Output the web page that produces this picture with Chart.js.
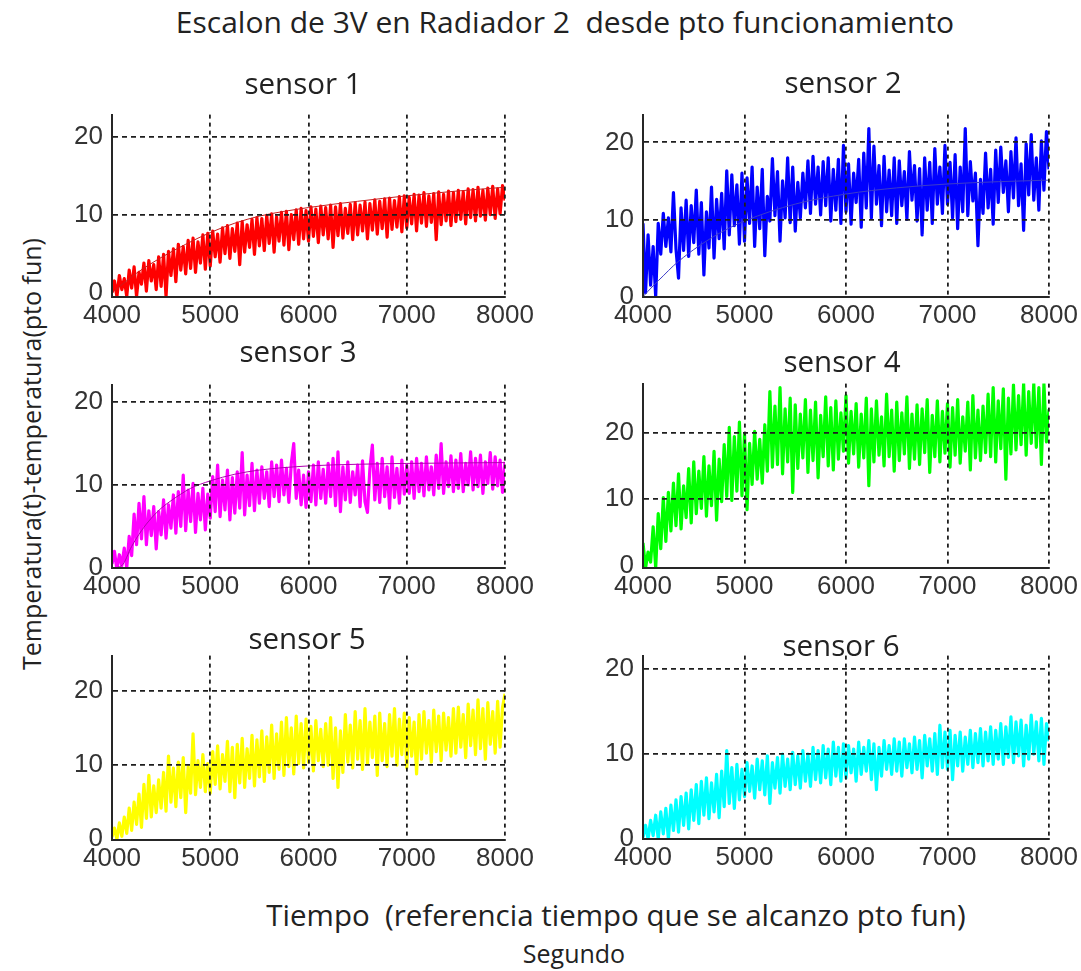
<!DOCTYPE html>
<html>
<head>
<meta charset="utf-8">
<title>Escalon de 3V en Radiador 2</title>
<script src="https://cdn.jsdelivr.net/npm/chart.js@4.4.1/dist/chart.umd.min.js"></script>
<style>
  body { margin: 0; background: #fff; }
  #page { position: relative; width: 1081px; height: 971px; overflow: hidden; font-family: 'Open Sans', sans-serif; color: #222; }
  .txt { position: absolute; white-space: pre; transform: translate(-50%, -50%); line-height: 1; }
  .vert { transform: translate(-50%, -50%) rotate(-90deg); }
  canvas { position: absolute; }
</style>
</head>
<body>
<div id="page">
  <div class="txt" style="left:565px;top:22px;font-size:30px">Escalon de 3V en Radiador 2  desde pto funcionamiento</div>
  <div class="txt vert" style="left:31px;top:454px;font-size:25px">Temperatura(t)-temperatura(pto fun)</div>
  <div class="txt" style="left:616px;top:915px;font-size:29.5px">Tiempo  (referencia tiempo que se alcanzo pto fun)</div>
  <div class="txt" style="left:574px;top:953px;font-size:25px">Segundo</div>
</div>

<script>
// sampled every 25 s from t = 4000 s to 8000 s (161 samples per sensor)
const sampleStart = 4000;
const sampleStep = 25;
const timeTicks = [4000, 5000, 6000, 7000, 8000];
const tempTicks = [0, 10, 20];

const sensorNames = ['sensor 1', 'sensor 2', 'sensor 3', 'sensor 4', 'sensor 5', 'sensor 6'];
const sensorColors = ['#ff0000', '#0000ff', '#ff00ff', '#00ff00', '#ffff00', '#00ffff'];

const sensor1 = [
  0, 1.5, -0.5, 2.2, 0.4, 1.8, -0.5, 2.9, 0.6, 3.3, -0.5, 2.6, 1.1, 3.8, 0.2, 4.1, 1.5, 3.6, 0.4, 4.6,
  0.8, 4.9, -0.5, 5.3, 2.2, 5.6, 1.4, 6.2, 2.9, 5.9, 2.4, 6.7, 3.1, 7.0, 2.6, 6.5, 3.8, 7.4, 3.0, 7.6,
  3.4, 7.9, 4.6, 7.5, 3.9, 8.3, 5.0, 8.6, 4.4, 8.2, 5.3, 8.9, 3.6, 9.1, 5.2, 8.7, 5.8, 9.4, 4.9, 9.6,
  6.0, 9.5, 5.4, 9.9, 6.3, 10.1, 5.2, 9.7, 6.6, 10.3, 6.1, 10.4, 5.5, 10.0, 6.8, 10.6, 6.2, 10.8, 6.9, 10.5,
  6.6, 11.0, 7.2, 10.7, 6.4, 11.1, 7.4, 10.9, 6.9, 11.2, 5.8, 11.0, 7.3, 11.4, 7.0, 10.8, 7.6, 11.3, 6.8, 11.5,
  7.4, 11.2, 7.9, 11.6, 6.9, 11.4, 8.0, 11.9, 7.5, 11.7, 8.2, 12.0, 7.1, 12.1, 8.1, 11.8, 8.4, 12.3, 7.8, 12.4,
  8.3, 12.2, 8.8, 12.6, 7.9, 12.5, 8.9, 12.8, 8.5, 12.4, 9.0, 12.7, 6.8, 12.9, 8.7, 12.6, 9.2, 13.0, 8.6, 12.8,
  9.1, 13.1, 9.4, 12.9, 8.8, 13.3, 9.6, 13.2, 9.2, 13.5, 9.8, 13.1, 9.3, 13.4, 10.0, 13.6, 9.5, 13.3, 10.1, 13.7,
  11.8
];
const sensor2 = [
  9.5, 0.5, 8.0, 1.5, 6.5, 0, 9.5, 5.5, 10.8, 6.5, 10.2, 5.8, 13.5, 6.2, 2.4, 11.5, 6.0, 12.5, 5.2, 11.8,
  7.0, 13.8, 5.5, 12.2, 2.8, 11.0, 6.3, 14.2, 5.0, 12.6, 7.5, 13.4, 6.2, 16.3, 8.0, 15.8, 9.2, 14.5, 6.8, 16.0,
  7.2, 15.4, 9.5, 16.8, 6.5, 14.2, 8.8, 16.5, 5.3, 13.0, 9.8, 17.9, 10.5, 16.2, 7.2, 15.0, 10.2, 18.0, 9.6, 16.8,
  8.5, 14.8, 10.2, 16.0, 11.5, 17.6, 10.8, 18.2, 12.0, 16.8, 10.6, 17.5, 11.8, 18.0, 9.8, 16.5, 11.2, 17.8, 9.5, 19.6,
  11.0, 17.2, 9.4, 16.0, 12.2, 17.8, 9.0, 18.6, 11.5, 21.8, 10.2, 19.5, 12.0, 17.0, 9.2, 18.2, 11.0, 16.4, 10.5, 18.0,
  9.5, 17.6, 11.8, 16.2, 10.0, 18.8, 12.5, 17.0, 9.8, 16.6, 8.0, 18.0, 11.2, 17.4, 9.5, 19.2, 12.0, 16.8, 10.8, 19.6,
  12.0, 17.4, 10.2, 18.4, 8.8, 16.8, 11.0, 21.8, 10.5, 17.5, 12.4, 16.0, 6.6, 15.2, 10.8, 18.6, 11.5, 16.5, 9.4, 19.0,
  12.2, 19.4, 13.5, 17.6, 11.0, 18.8, 12.8, 20.6, 11.8, 17.2, 8.6, 19.8, 13.2, 21.0, 12.5, 18.0, 11.2, 20.2, 13.8, 21.4,
  16.5
];
const sensor3 = [
  0.5, 2.0, -0.2, 1.6, 0.3, 2.4, 0, 3.8, 1.5, 6.5, 2.8, 7.8, 3.5, 8.6, 2.8, 6.9, 3.9, 7.4, 2.3, 6.8,
  4.0, 8.2, 3.6, 7.6, 4.8, 8.8, 4.2, 9.2, 5.0, 11.2, 4.5, 9.4, 5.6, 10.2, 4.3, 9.0, 5.8, 9.6, 4.6, 8.9,
  6.0, 11.0, 6.8, 12.4, 6.2, 10.6, 7.0, 11.8, 5.8, 10.9, 6.6, 11.6, 7.2, 13.9, 6.4, 11.2, 7.5, 12.6, 6.9, 11.8,
  7.8, 12.2, 8.4, 11.6, 7.4, 12.8, 8.6, 12.4, 8.0, 13.0, 8.8, 12.0, 7.9, 12.6, 15.0, 8.4, 11.8, 7.6, 11.2, 7.3,
  11.6, 8.0, 12.4, 7.6, 12.8, 8.4, 11.9, 7.8, 12.6, 8.6, 13.2, 7.5, 14.0, 6.8, 12.2, 8.2, 12.8, 7.9, 11.6, 8.8,
  12.4, 7.4, 12.9, 8.0, 6.7, 12.0, 14.8, 8.2, 12.6, 7.9, 13.2, 8.6, 12.2, 7.2, 13.4, 8.5, 12.0, 7.8, 13.0, 8.9,
  12.4, 9.0, 12.8, 8.4, 13.2, 9.2, 12.6, 8.7, 13.4, 9.4, 12.2, 8.8, 13.6, 9.6, 15.0, 9.0, 12.8, 9.8, 13.5, 9.2,
  13.0, 9.6, 13.8, 9.2, 12.6, 10.0, 14.0, 9.4, 13.2, 9.8, 13.6, 9.0, 12.8, 10.2, 13.9, 9.5, 13.4, 9.9, 13.0, 9.1,
  12.8
];
const sensor4 = [
  3.4, -0.4, 2.0, 0.5, 5.8, -0.4, 7.8, 2.5, 10.2, 3.6, 11.0, 5.2, 12.4, 6.0, 13.8, 5.5, 12.0, 7.2, 14.6, 6.4,
  15.6, 7.8, 14.2, 8.6, 16.4, 7.4, 15.0, 9.0, 17.2, 6.8, 16.0, 9.6, 18.2, 10.4, 20.8, 9.8, 19.4, 11.2, 21.6, 10.5,
  19.8, 8.4, 18.4, 12.2, 20.2, 13.0, 19.0, 12.4, 21.2, 14.2, 26.2, 14.8, 24.0, 15.2, 26.8, 13.8, 23.6, 15.6, 25.2, 11.0,
  24.2, 14.6, 22.8, 16.2, 25.0, 14.0, 23.4, 15.8, 24.6, 13.2, 22.6, 16.4, 25.4, 15.0, 23.8, 14.4, 24.8, 16.0, 23.0, 17.2,
  25.6, 15.4, 23.2, 16.8, 24.4, 14.8, 22.8, 16.2, 25.2, 12.0, 23.6, 15.6, 24.8, 16.6, 22.4, 15.0, 25.8, 16.4, 23.4, 14.2,
  24.6, 15.8, 23.0, 16.8, 25.4, 14.6, 22.8, 16.0, 24.2, 15.2, 23.6, 17.0, 25.0, 14.0, 22.6, 16.4, 24.8, 15.6, 23.2, 16.9,
  24.4, 14.8, 23.8, 16.6, 25.0, 15.4, 22.4, 17.2, 24.6, 14.4, 25.6, 16.2, 23.4, 15.8, 24.0, 17.0, 25.8, 16.4, 26.8, 15.6,
  24.8, 17.6, 26.6, 13.0, 25.2, 16.8, 27.2, 17.4, 25.6, 18.2, 27.4, 16.6, 26.2, 18.4, 27.4, 17.8, 26.8, 15.2, 27.4, 18.6,
  23.5
];
const sensor5 = [
  0.3, 1.5, 0, 2.2, 0.4, 3.0, 0.8, 4.2, 1.2, 5.0, 2.0, 6.1, 1.6, 7.4, 2.8, 8.6, 3.0, 7.2, 3.6, 8.0,
  4.2, 9.0, 3.8, 11.2, 5.0, 9.6, 4.4, 10.4, 5.6, 11.0, 3.6, 9.8, 6.2, 14.2, 6.0, 10.6, 7.0, 11.4, 6.4, 10.2,
  6.2, 11.8, 7.4, 12.6, 6.8, 11.4, 7.8, 13.2, 6.4, 12.4, 5.6, 12.8, 7.6, 13.6, 7.0, 12.2, 8.2, 14.0, 7.2, 13.4,
  8.4, 14.6, 7.8, 13.8, 9.0, 15.4, 8.2, 14.2, 9.4, 15.8, 8.6, 16.4, 9.8, 15.0, 8.8, 16.6, 10.2, 15.6, 9.6, 16.2,
  10.4, 15.2, 9.2, 16.0, 10.6, 14.8, 9.8, 15.6, 10.0, 16.4, 8.2, 15.0, 7.0, 14.6, 9.0, 16.8, 10.4, 15.4, 9.6, 17.2,
  10.8, 16.0, 9.4, 17.6, 10.2, 15.8, 11.0, 16.6, 8.6, 17.0, 10.6, 15.6, 9.8, 16.8, 11.2, 17.6, 10.0, 16.2, 11.4, 17.0,
  9.6, 16.4, 11.2, 15.8, 8.8, 16.8, 10.8, 17.2, 11.6, 16.0, 10.4, 17.4, 11.8, 16.6, 10.6, 17.0, 12.0, 16.4, 11.2, 17.6,
  11.6, 17.8, 12.4, 16.8, 11.0, 18.2, 12.6, 17.4, 11.4, 18.8, 12.2, 17.6, 10.8, 18.4, 12.8, 17.2, 11.6, 18.6, 12.4, 17.8,
  19.6
];
const sensor6 = [
  0.2, 1.6, 0, 2.2, 0.4, 2.8, 0, 3.2, 0.6, 3.6, 0, 4.0, 1.0, 4.6, 0.8, 5.0, 1.6, 5.4, 1.2, 5.8,
  2.2, 6.4, 1.8, 6.8, 2.8, 7.2, 2.4, 6.6, 3.2, 7.6, 2.5, 8.0, 3.8, 10.4, 4.2, 8.4, 3.6, 8.8, 4.6, 8.2,
  5.0, 9.0, 5.6, 8.6, 4.8, 9.4, 5.8, 9.2, 5.2, 9.8, 4.2, 9.0, 6.0, 9.6, 5.4, 10.0, 6.2, 9.4, 5.8, 10.2,
  6.4, 9.8, 6.0, 10.4, 6.8, 10.0, 6.2, 10.8, 7.0, 10.4, 6.6, 11.0, 7.2, 10.6, 6.4, 11.4, 7.4, 10.8, 6.8, 11.2,
  7.2, 11.0, 7.8, 10.6, 6.8, 11.4, 7.6, 10.8, 8.0, 11.6, 7.0, 11.2, 5.8, 10.8, 7.4, 11.6, 8.2, 11.0, 7.6, 11.8,
  8.0, 11.4, 7.4, 11.8, 8.4, 11.2, 7.8, 12.0, 8.2, 11.6, 7.2, 12.2, 8.6, 11.8, 8.0, 12.4, 7.6, 13.4, 8.4, 12.6,
  8.2, 12.8, 7.0, 12.2, 8.6, 12.6, 8.0, 12.0, 8.8, 12.8, 8.4, 12.4, 9.0, 13.0, 8.6, 12.6, 9.2, 13.2, 8.8, 12.8,
  9.4, 13.6, 8.8, 13.2, 9.6, 14.4, 9.0, 13.8, 9.8, 14.0, 8.6, 13.4, 9.4, 14.6, 10.0, 13.8, 9.2, 14.2, 8.8, 13.6,
  11.5
];

// model response curves (fitted first-order step responses)
const fit1Times = [4000, 4250, 4500, 4750, 5000, 5250, 5500, 6000, 6500, 7000, 7500, 8000];
const fit1 = [0, 2.5, 4.5, 6.2, 7.7, 8.9, 9.8, 10.9, 11.7, 12.4, 13.0, 13.5];
const fit2Times = [4000, 4100, 4200, 4300, 4400, 4500, 4750, 5000, 5500, 6000, 6500, 7000, 7500, 8000];
const fit2 = [0, 1.4, 2.7, 4.0, 5.1, 6.1, 8.2, 9.8, 12.0, 13.3, 14.1, 14.6, 14.9, 15.1];
const fit3Times = [4000, 4100, 4200, 4300, 4400, 4500, 4600, 4700, 4800, 5000, 5250, 5500, 6000, 6500, 7000, 8000];
const fit3 = [0, 0.3, 2.6, 4.5, 6.0, 7.2, 8.1, 8.9, 9.6, 10.5, 11.3, 11.8, 12.3, 12.5, 12.6, 12.7];

const sensorData = [sensor1, sensor2, sensor3, sensor4, sensor5, sensor6];
const fits = [
  { times: fit1Times, values: fit1, color: '#c81e1e' },
  { times: fit2Times, values: fit2, color: '#3c3cc8' },
  { times: fit3Times, values: fit3, color: '#b000b0' },
  null, null, null
];

// plot area of every subplot on the page, plus axis limits
const panels = [
  { left: 112, top: 102, right: 505, bottom: 297, yMin: -0.55, yMax: 22.8, titleX: 303, titleY: 83 },
  { left: 643, top: 102, right: 1049, bottom: 297, yMin: -0.05, yMax: 23.6, titleX: 843, titleY: 82 },
  { left: 112, top: 372, right: 505, bottom: 568, yMin: 0, yMax: 22.1, titleX: 298, titleY: 351 },
  { left: 643, top: 371, right: 1049, bottom: 568, yMin: -0.4, yMax: 27.4, titleX: 842, titleY: 361 },
  { left: 112, top: 643, right: 505, bottom: 840, yMin: -0.1, yMax: 24.75, titleX: 307, titleY: 638 },
  { left: 643, top: 643, right: 1049, bottom: 839, yMin: 0, yMax: 21.6, titleX: 841, titleY: 645 }
];

const padLeft = 60, padTop = 12, padRight = 40, padBottom = 40;
const page = document.getElementById('page');

function toPoints(values) {
  return values.map((v, i) => ({ x: sampleStart + i * sampleStep, y: v }));
}

const tickFont = { family: 'Liberation Sans', size: 26 };
const gridColor = '#1e1e1e';

// no dashed line on top of the solid axes (t = 4000 and T = 0)
function gridColorAt(firstValue) {
  return (ctx) => (ctx.tick && ctx.tick.value === firstValue) ? 'rgba(0,0,0,0)' : gridColor;
}

panels.forEach((p, k) => {
  const canvas = document.createElement('canvas');
  const w = p.right - p.left + padLeft + padRight;
  const h = p.bottom - p.top + padTop + padBottom;
  canvas.width = w;
  canvas.height = h;
  canvas.style.left = (p.left - padLeft) + 'px';
  canvas.style.top = (p.top - padTop) + 'px';
  canvas.style.width = w + 'px';
  canvas.style.height = h + 'px';
  page.appendChild(canvas);

  const datasets = [{
    data: toPoints(sensorData[k]),
    borderColor: sensorColors[k],
    borderWidth: 3.2,
    borderJoinStyle: 'round',
    pointRadius: 0,
    tension: 0,
    order: 2
  }];
  if (fits[k]) {
    datasets.push({
      data: fits[k].times.map((t, i) => ({ x: t, y: fits[k].values[i] })),
      borderColor: fits[k].color,
      borderWidth: 1,
      pointRadius: 0,
      cubicInterpolationMode: 'monotone',
      order: 1
    });
  }

  new Chart(canvas.getContext('2d'), {
    type: 'line',
    data: { datasets: datasets },
    options: {
      responsive: false,
      animation: false,
      devicePixelRatio: 1,
      layout: { autoPadding: false, padding: { left: 0, top: padTop, right: padRight, bottom: 0 } },
      plugins: { legend: { display: false }, tooltip: { enabled: false } },
      scales: {
        x: {
          type: 'linear',
          min: 4000,
          max: 8000,
          afterFit: (scale) => { scale.height = padBottom; },
          afterBuildTicks: (scale) => { scale.ticks = timeTicks.map(v => ({ value: v })); },
          ticks: { autoSkip: false, maxRotation: 0, padding: 3, color: '#333', font: tickFont,
                   callback: (v) => String(v) },
          grid: { color: gridColorAt(4000), lineWidth: 1.8, drawTicks: false, z: 1 },
          border: { display: true, color: '#262626', width: 2, dash: [4, 4], z: 2 }
        },
        y: {
          min: p.yMin,
          max: p.yMax,
          afterFit: (scale) => { scale.width = padLeft; },
          afterBuildTicks: (scale) => { scale.ticks = tempTicks.map(v => ({ value: v })); },
          ticks: { padding: 9, color: '#333', font: tickFont, callback: (v) => String(v) },
          grid: { color: gridColorAt(0), lineWidth: 1.8, drawTicks: false, z: 1 },
          border: { display: true, color: '#262626', width: 2, dash: [5, 4], z: 2 }
        }
      }
    }
  });

  const title = document.createElement('div');
  title.className = 'txt';
  title.style.left = p.titleX + 'px';
  title.style.top = p.titleY + 'px';
  title.style.fontSize = '29.5px';
  title.textContent = sensorNames[k];
  page.appendChild(title);
});
</script>
</body>
</html>
